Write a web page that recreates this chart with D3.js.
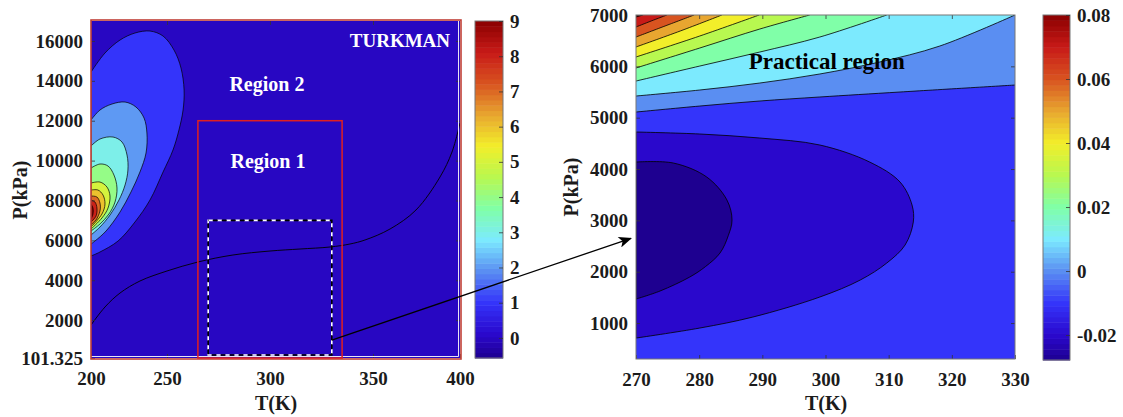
<!DOCTYPE html>
<html>
<head>
<meta charset="utf-8">
<script src="https://cdn.jsdelivr.net/npm/d3@7/dist/d3.min.js"></script>
<style>
  html, body { margin: 0; padding: 0; background: #fff; }
  svg { display: block; font-family: "Liberation Serif", "Times New Roman", serif; font-weight: bold; }
</style>
</head>
<body>
<svg id="chart" width="1123" height="417"></svg>
<script>
/* ---- data ----------------------------------------------------------- */
// left panel (TURKMAN, full range)
const leftTTicks   = [200, 250, 300, 350, 400];
const leftPTicks   = [101.325, 2000, 4000, 6000, 8000, 10000, 12000, 14000, 16000];
const leftPRange   = [101.325, 17000];
const leftBarRange = [-0.57, 9];
const leftBarTicks = [0, 1, 2, 3, 4, 5, 6, 7, 8, 9];

// level-0 line crossing the whole panel
const leftZeroLine = [[200, 1756], [209.2, 2658], [219.1, 3360], [232.2, 3962], [250, 4464], [265, 4915],
  [282, 5266], [300, 5466], [314.6, 5567], [329.1, 5667], [338.8, 5817], [346.1, 6018], [359.8, 6570],
  [374.7, 7522], [388.5, 9176], [395.4, 10430], [400, 11884]];

// closed lobes on the left edge, outermost first
const leftLobeLevels = [1, 2, 3, 4, 5, 6, 7, 8, 9];
const leftLobes = [
  [[200, 14441], [209.2, 15394], [219.1, 16046], [228.9, 16397], [238.8, 16497], [247.4, 16246], [253.4, 15544],
   [256.8, 14642], [258.3, 13539], [257.8, 12536], [255.8, 11533], [252.9, 10530], [247.4, 9427], [238.8, 8023],
   [228.9, 6920], [217.8, 5967], [205.9, 5416], [200, 5216]],
  [[200, 12035], [205.9, 12536], [213.8, 12837], [222.4, 12937], [229.6, 12686], [234.9, 12135], [236.8, 11383],
   [236.2, 10380], [232.2, 9427], [226.3, 8424], [219.1, 7421], [209.9, 6469], [202.6, 5967], [200, 5817]],
  [[200, 10731], [205.9, 11082], [214.5, 11182], [220.4, 10932], [223.7, 10280], [224.3, 9527], [222.4, 8775],
   [218.4, 8023], [212.5, 7271], [205.9, 6670], [200, 6269]],
  [[200, 9628], [205.9, 9828], [211.2, 9728], [215.1, 9277], [217.1, 8625], [215.8, 7923], [211.8, 7321],
   [205.9, 6820], [200, 6469]],
  [[200, 8875], [205.9, 8925], [210.5, 8675], [212.5, 8224], [211.2, 7622], [207.2, 7121], [200, 6570]],
  [[200, 8524], [204.6, 8524], [207.9, 8274], [209.2, 7822], [207.2, 7321], [200, 6670]],
  [[200, 8224], [203.9, 8174], [205.9, 7873], [205.9, 7472], [203.3, 7021], [200, 6770]],
  [[200, 8023], [202.6, 7923], [203.9, 7622], [203.3, 7221], [200, 6920]],
  [[200, 7822], [201.3, 7622], [201.3, 7321], [200, 7071]]
];

// boxes drawn on the left panel [Tmin, Tmax, Pmin, Pmax]
const region1Box = [265, 335, 101.325, 12000];
const zoomBox    = [270, 330, 250, 7000];

// right panel (practical region, zoom)
const rightTTicks   = [270, 280, 290, 300, 310, 320, 330];
const rightPTicks   = [1000, 2000, 3000, 4000, 5000, 6000, 7000];
const rightTRange   = [270, 330];
const rightPRange   = [300, 7000];
const rightBarRange = [-0.0278, 0.08];
const rightBarTicks = [-0.02, 0, 0.02, 0.04, 0.06, 0.08];

// C-shaped levels, both ends on the left edge
const rightLowLevels = [-0.01, -0.02];
const rightLowLines = [
  [[270, 4721], [280.1, 4682], [289.6, 4604], [299.1, 4468], [307.0, 4136], [311.8, 3747], [313.7, 3299],
   [313.9, 2968], [312.6, 2520], [309.7, 2169], [305.5, 1838], [299.1, 1507], [288.5, 1117], [280.1, 903], [270, 708]],
  [[270, 4136], [275.9, 4117], [281.2, 3844], [284.4, 3396], [285.2, 3007], [284.6, 2700], [283.3, 2364],
   [281, 2100], [278.5, 1896], [273.8, 1624], [270, 1468]]
];

// rising levels, from the left edge to the top / right edge
const rightHighLevels = [0, 0.01, 0.02, 0.03, 0.04, 0.05, 0.06, 0.07, 0.08];
const rightHighLines = [
  [[270, 5110], [280.1, 5227], [289.6, 5325], [299.1, 5403], [311.8, 5500], [330, 5636]],
  [[270, 5422], [280.1, 5539], [289.6, 5675], [299.1, 5851], [308.6, 6085], [318.1, 6396], [330, 7000]],
  [[270, 5714], [280.1, 6006], [289.6, 6279], [299.1, 6571], [309.7, 7000]],
  [[270, 5968], [280.1, 6357], [289.6, 6727], [297.5, 7000]],
  [[270, 6182], [280.1, 6591], [289.5, 7000]],
  [[270, 6377], [277, 6688], [283.6, 7000]],
  [[270, 6571], [274.6, 6786], [279.2, 7000]],
  [[270, 6766], [272.4, 6883], [274.9, 7000]],
  [[270, 6961], [271.1, 7000]]
];

/* ---- colormap (jet, as it looks in the figure) ----------------------- */
const cmapPos    = [0, 0.072, 0.165, 0.258, 0.35, 0.443, 0.536, 0.629, 0.722, 0.814, 0.907, 1];
const cmapColors = ['#1e0090', '#2a08cc', '#3434fa', '#5a8ef2', '#7ceaff', '#80ffa8', '#b8f850',
                    '#f2ee2a', '#e8a630', '#d85420', '#c81a18', '#8a0000'];
const cmap = d3.scaleLinear().domain(cmapPos).range(cmapColors).interpolate(d3.interpolateRgb).clamp(true);
function colorOf(v, range) { return cmap((v - range[0]) / (range[1] - range[0])); }

const svg = d3.select('#chart');
const INK = '#1b1b1b';
const FS = 19;

const defs = svg.append('defs');
defs.append('marker').attr('id', 'arrow')
  .attr('viewBox', '0 0 12 10').attr('refX', 11).attr('refY', 5)
  .attr('markerWidth', 14).attr('markerHeight', 11).attr('markerUnits', 'userSpaceOnUse')
  .attr('orient', 'auto')
  .append('path').attr('d', 'M0,0 L12,5 L0,10 L3,5 Z').attr('fill', '#000');

function clip(id, x0, y0, w, h) {
  defs.append('clipPath').attr('id', id).append('rect')
    .attr('x', x0).attr('y', y0).attr('width', w).attr('height', h);
}

function styleAxis(g) {
  g.select('.domain').remove();
  g.selectAll('.tick line').attr('stroke', '#333').attr('stroke-width', 0.8);
  g.selectAll('text').attr('font-size', FS).attr('font-weight', 'bold').attr('fill', INK)
    .attr('font-family', '"Liberation Serif", serif');
}

function curvePath(x, y, pts) {
  return d3.line().x(d => x(d[0])).y(d => y(d[1])).curve(d3.curveCatmullRom.alpha(0.5))(pts);
}

function colorbar(x0, y0, w, h, range, ticks, fmt) {
  const s = d3.scaleLinear().domain(range).range([y0 + h, y0]);
  const n = 64, step = (range[1] - range[0]) / n;
  svg.append('g').selectAll('rect').data(d3.range(n)).join('rect')
    .attr('x', x0).attr('width', w)
    .attr('y', i => s(range[0] + (i + 1) * step))
    .attr('height', i => s(range[0] + i * step) - s(range[0] + (i + 1) * step) + 0.5)
    .attr('fill', i => colorOf(range[0] + (i + 0.5) * step, range));
  svg.append('rect').attr('x', x0).attr('y', y0).attr('width', w).attr('height', h)
    .attr('fill', 'none').attr('stroke', '#777').attr('stroke-width', 1);
  svg.append('g').attr('transform', `translate(${x0 + w},0)`)
    .call(d3.axisRight(s).tickValues(ticks).tickSizeInner(-4).tickSizeOuter(0).tickPadding(7).tickFormat(fmt))
    .call(styleAxis);
}

/* ==== LEFT PANEL ====================================================== */
const L = { x0: 91, x1: 460, y0: 21, y1: 358 };
const xL = d3.scaleLinear().domain(leftTTicks).range([91, 167, 270, 373, 460]);
const yL = d3.scaleLinear().domain(leftPRange).range([L.y1, L.y0]);
clip('clipL', L.x0, L.y0, L.x1 - L.x0, L.y1 - L.y0);

const gL = svg.append('g').attr('clip-path', 'url(#clipL)');
gL.append('rect').attr('x', L.x0).attr('y', L.y0).attr('width', L.x1 - L.x0).attr('height', L.y1 - L.y0)
  .attr('fill', colorOf(0, leftBarRange));
gL.selectAll('path.lobe').data(leftLobes).join('path').attr('class', 'lobe')
  .attr('d', d => curvePath(xL, yL, d) + 'Z')
  .attr('fill', (d, i) => colorOf(leftLobeLevels[i], leftBarRange))
  .attr('stroke', '#000').attr('stroke-width', 0.7);
gL.append('path').attr('d', curvePath(xL, yL, leftZeroLine))
  .attr('fill', 'none').attr('stroke', '#000').attr('stroke-width', 0.9);

// axes
svg.append('g').attr('transform', `translate(0,${L.y1})`)
  .call(d3.axisBottom(xL).tickValues(leftTTicks).tickSizeInner(-4).tickSizeOuter(0).tickPadding(14))
  .call(styleAxis);
svg.append('g').attr('transform', `translate(${L.x0},0)`)
  .call(d3.axisLeft(yL).tickValues(leftPTicks).tickSizeInner(-4).tickSizeOuter(0).tickPadding(8)
    .tickFormat(d => String(d)))
  .call(styleAxis);
svg.append('g').attr('transform', `translate(0,${L.y0})`)
  .call(d3.axisTop(xL).tickValues(leftTTicks.slice(1, -1)).tickSizeInner(-4).tickSizeOuter(0).tickFormat(''))
  .call(styleAxis);
svg.append('g').attr('transform', `translate(${L.x1},0)`)
  .call(d3.axisRight(yL).tickValues(leftPTicks.slice(1)).tickSizeInner(-4).tickSizeOuter(0).tickFormat(''))
  .call(styleAxis);

// white inner edge + red outer frame (Region 2)
svg.append('path').attr('d', `M${L.x0},${L.y1 - 1.5}H${L.x1 - 1.5}V${L.y0}`)
  .attr('fill', 'none').attr('stroke', '#e8e4f4').attr('stroke-width', 1);
svg.append('rect').attr('x', L.x0).attr('y', L.y0 - 1).attr('width', L.x1 - L.x0 + 1).attr('height', L.y1 - L.y0 + 2)
  .attr('fill', 'none').attr('stroke', '#c04038').attr('stroke-width', 1.6);

// Region 1 box
svg.append('rect')
  .attr('x', xL(region1Box[0])).attr('y', yL(region1Box[3]))
  .attr('width', xL(region1Box[1]) - xL(region1Box[0])).attr('height', yL(region1Box[2]) - yL(region1Box[3]))
  .attr('fill', 'none').attr('stroke', '#e02020').attr('stroke-width', 1.5);

// zoomed window (white + black dashes)
const zb = { x: xL(zoomBox[0]), y: yL(zoomBox[3]), w: xL(zoomBox[1]) - xL(zoomBox[0]), h: yL(zoomBox[2]) - yL(zoomBox[3]) };
svg.append('rect').attr('x', zb.x).attr('y', zb.y).attr('width', zb.w).attr('height', zb.h)
  .attr('fill', 'none').attr('stroke', '#fff').attr('stroke-width', 1.6).attr('stroke-dasharray', '5 4');
svg.append('rect').attr('x', zb.x).attr('y', zb.y).attr('width', zb.w).attr('height', zb.h)
  .attr('fill', 'none').attr('stroke', '#000').attr('stroke-width', 1.6).attr('stroke-dasharray', '5 4')
  .attr('stroke-dashoffset', 4.5);

// labels
svg.append('text').attr('x', xL(298.5)).attr('y', yL(13489)).attr('text-anchor', 'middle')
  .attr('font-size', 20).attr('fill', '#fff').text('Region 2');
svg.append('text').attr('x', xL(299)).attr('y', yL(9628)).attr('text-anchor', 'middle')
  .attr('font-size', 20).attr('fill', '#fff').text('Region 1');
svg.append('text').attr('x', xL(394.3)).attr('y', yL(15695)).attr('text-anchor', 'end')
  .attr('font-size', 19).attr('fill', '#fff').text('TURKMAN');

svg.append('text').attr('x', 276).attr('y', 410).attr('text-anchor', 'middle')
  .attr('font-size', 20).attr('fill', INK).text('T(K)');
svg.append('text').attr('transform', 'translate(27,190) rotate(-90)').attr('text-anchor', 'middle')
  .attr('font-size', 20).attr('fill', INK).text('P(kPa)');

colorbar(475, 21, 28, 337, leftBarRange, leftBarTicks, d => String(d));

/* ==== RIGHT PANEL ===================================================== */
const R = { x0: 636, x1: 1015, y0: 15, y1: 359 };
const xR = d3.scaleLinear().domain(rightTRange).range([R.x0, R.x1]);
const yR = d3.scaleLinear().domain(rightPRange).range([R.y1, R.y0]);
clip('clipR', R.x0, R.y0, R.x1 - R.x0, R.y1 - R.y0);

const gR = svg.append('g').attr('clip-path', 'url(#clipR)');
gR.append('rect').attr('x', R.x0).attr('y', R.y0).attr('width', R.x1 - R.x0).attr('height', R.y1 - R.y0)
  .attr('fill', colorOf(-0.01, rightBarRange));

// C-shaped lows: the lower band of each level is inside the curve
gR.selectAll('path.low').data(rightLowLines).join('path').attr('class', 'low')
  .attr('d', d => curvePath(xR, yR, d) + 'Z')
  .attr('fill', (d, i) => i === rightLowLines.length - 1
    ? colorOf(rightBarRange[0], rightBarRange)
    : colorOf(rightLowLevels[i + 1], rightBarRange))
  .attr('stroke', '#000').attr('stroke-width', 0.8);

// rising highs: filled toward the top-left corner
function toCorner(pts) {
  const last = pts[pts.length - 1];
  let tail = '';
  if (last[0] >= rightTRange[1] && last[1] < rightPRange[1]) tail += `L${xR(rightTRange[1])},${yR(rightPRange[1])}`;
  tail += `L${xR(rightTRange[0])},${yR(rightPRange[1])}Z`;
  return curvePath(xR, yR, pts) + tail;
}
gR.selectAll('path.high').data(rightHighLines).join('path').attr('class', 'high')
  .attr('d', toCorner)
  .attr('fill', (d, i) => colorOf(rightHighLevels[i], rightBarRange))
  .attr('stroke', 'none');
gR.selectAll('path.highline').data(rightHighLines).join('path').attr('class', 'highline')
  .attr('d', d => curvePath(xR, yR, d))
  .attr('fill', 'none').attr('stroke', '#000').attr('stroke-width', 0.8);

svg.append('g').attr('transform', `translate(0,${R.y1})`)
  .call(d3.axisBottom(xR).tickValues(rightTTicks).tickSizeInner(-4).tickSizeOuter(0).tickPadding(14))
  .call(styleAxis);
svg.append('g').attr('transform', `translate(${R.x0},0)`)
  .call(d3.axisLeft(yR).tickValues(rightPTicks).tickSizeInner(-4).tickSizeOuter(0).tickPadding(8)
    .tickFormat(d => String(d)))
  .call(styleAxis);
svg.append('g').attr('transform', `translate(0,${R.y0})`)
  .call(d3.axisTop(xR).tickValues(rightTTicks.slice(1, -1)).tickSizeInner(-4).tickSizeOuter(0).tickFormat(''))
  .call(styleAxis);
svg.append('g').attr('transform', `translate(${R.x1},0)`)
  .call(d3.axisRight(yR).tickValues(rightPTicks.slice(0, -1)).tickSizeInner(-4).tickSizeOuter(0).tickFormat(''))
  .call(styleAxis);
svg.append('rect').attr('x', R.x0).attr('y', R.y0).attr('width', R.x1 - R.x0).attr('height', R.y1 - R.y0)
  .attr('fill', 'none').attr('stroke', '#777').attr('stroke-width', 1);

svg.append('text').attr('x', xR(300.2)).attr('y', yR(5948)).attr('text-anchor', 'middle')
  .attr('font-size', 23).attr('fill', '#000').text('Practical region');

svg.append('text').attr('x', 826).attr('y', 410).attr('text-anchor', 'middle')
  .attr('font-size', 20).attr('fill', INK).text('T(K)');
svg.append('text').attr('transform', 'translate(578,187) rotate(-90)').attr('text-anchor', 'middle')
  .attr('font-size', 20).attr('fill', INK).text('P(kPa)');

colorbar(1043, 15, 27, 345, rightBarRange, rightBarTicks, d => d === 0 ? '0' : d.toFixed(2));

/* ---- connector arrow -------------------------------------------------- */
svg.append('line')
  .attr('x1', xL(330)).attr('y1', yL(1000))
  .attr('x2', xR(269.2)).attr('y2', yR(2650))
  .attr('stroke', '#000').attr('stroke-width', 1.3).attr('marker-end', 'url(#arrow)');
</script>
</body>
</html>
